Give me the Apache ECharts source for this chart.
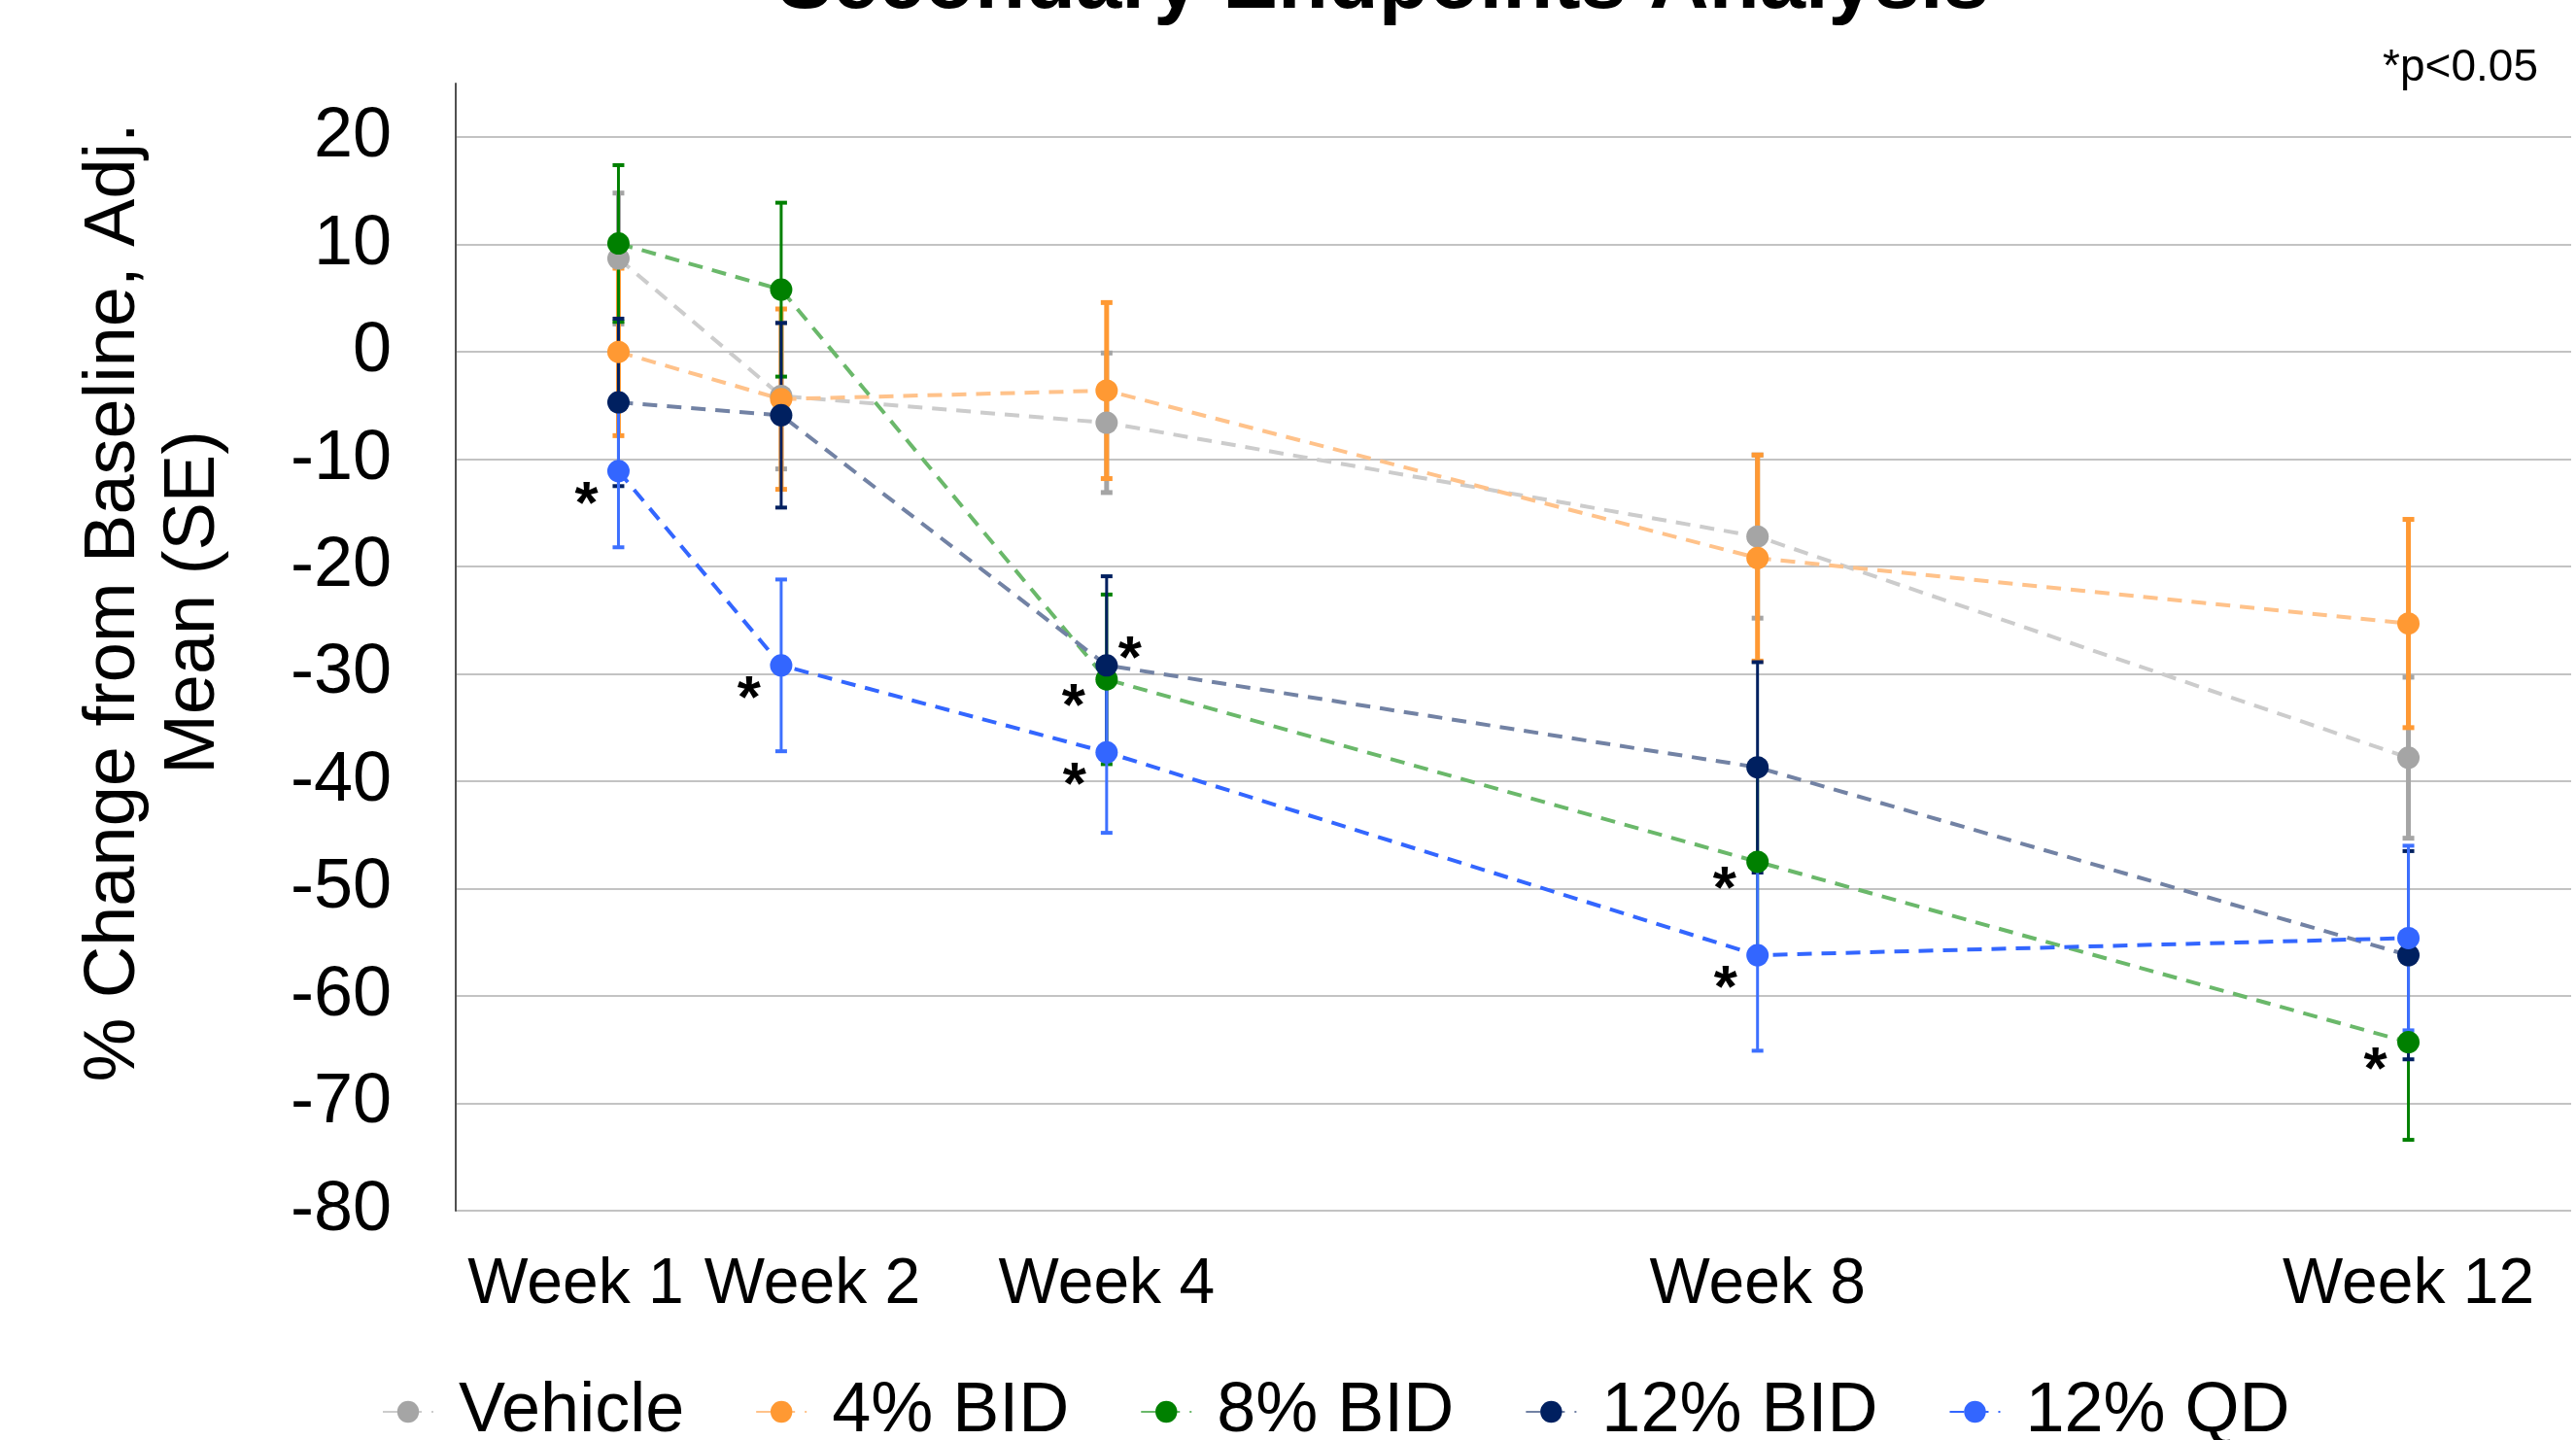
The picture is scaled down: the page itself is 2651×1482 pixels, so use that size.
<!DOCTYPE html>
<html>
<head>
<meta charset="utf-8">
<script src="https://cdn.jsdelivr.net/npm/echarts@6/dist/echarts.min.js"></script>
<style>
html,body{margin:0;padding:0;background:#fff;}
#chart{width:2651px;height:1482px;}
</style>
</head>
<body>
<div id="chart"></div>
<script>
// ---------- data ----------
const weeks = [1, 2, 4, 8, 12];
const weekLabels = ['Week 1', 'Week 2', 'Week 4', 'Week 8', 'Week 12'];
const seriesNames = ['Vehicle', '4% BID', '8% BID', '12% BID', '12% QD'];

const vehicleMean = [8.7, -4.1, -6.6, -17.2, -37.8];
const vehicleSE   = [6.1, 6.8, 6.5, 7.6, 7.5];
const bid4Mean    = [0.0, -4.4, -3.6, -19.2, -25.3];
const bid4SE      = [7.8, 8.4, 8.2, 9.6, 9.7];
const bid8Mean    = [10.1, 5.8, -30.5, -47.5, -64.3];
const bid8SE      = [7.3, 8.1, 7.9, 9.0, 9.1];
const bid12Mean   = [-4.7, -5.9, -29.2, -38.7, -56.2];
const bid12SE     = [7.8, 8.6, 8.3, 9.8, 9.7];
const qd12Mean    = [-11.1, -29.2, -37.3, -56.2, -54.6];
const qd12SE      = [7.1, 8.0, 7.5, 8.9, 8.6];

// significance (p<0.05) flags
const vehicleSig = [0, 0, 0, 0, 0];
const bid4Sig    = [0, 0, 0, 0, 0];
const bid8Sig    = [0, 0, 1, 1, 1];
const bid12Sig   = [0, 0, 1, 0, 0];
const qd12Sig    = [1, 1, 1, 1, 0];

const yTicks = { min: -80, max: 25, interval: 10 };

// ---------- styles ----------
const FONT = "'Liberation Sans', Arial, Helvetica, sans-serif";
// label nudges (Week 1 / Week 2 are pushed apart as in the original)
const weekLabelStyle = ['w1', 'w2', 'wn', 'wn', 'wn'];

const groups = [
  { name: seriesNames[0], mean: vehicleMean, se: vehicleSE, sig: vehicleSig,
    marker: '#a5a5a5', line: '#cccccc', bar: '#a5a5a5', barW: 5, capW: 5, starOffset: [-33, 28] },
  { name: seriesNames[1], mean: bid4Mean, se: bid4SE, sig: bid4Sig,
    marker: '#ff9933', line: '#ffc28a', bar: '#ff9933', barW: 5, capW: 5, starOffset: [-33, 28] },
  { name: seriesNames[2], mean: bid8Mean, se: bid8SE, sig: bid8Sig,
    marker: '#008000', line: '#6ab86a', bar: '#008000', barW: 3, capW: 4, starOffset: [-34, 30] },
  { name: seriesNames[3], mean: bid12Mean, se: bid12SE, sig: bid12Sig,
    marker: '#002060', line: '#7282a4', bar: '#002060', barW: 3, capW: 4, starOffset: [24, -5] },
  { name: seriesNames[4], mean: qd12Mean, se: qd12SE, sig: qd12Sig,
    marker: '#3366ff', line: '#3366ff', bar: '#3d70ff', barW: 3, capW: 4, starOffset: [-33, 36] }
];

const series = [];
groups.forEach(function (g) {
  // error bars (mean ± SE)
  series.push({
    type: 'custom',
    name: g.name + ' SE',
    z: 2,
    silent: true,
    encode: { x: 0, y: 1 },
    data: weeks.map(function (w, i) { return [w, g.mean[i], g.se[i]]; }),
    renderItem: function (params, api) {
      const x = api.value(0), m = api.value(1), s = api.value(2);
      const top = api.coord([x, m + s]);
      const bot = api.coord([x, m - s]);
      const cw = 6;
      return {
        type: 'group',
        children: [
          { type: 'line', shape: { x1: top[0], y1: top[1], x2: bot[0], y2: bot[1] },
            style: { stroke: g.bar, lineWidth: g.barW } },
          { type: 'line', shape: { x1: top[0] - cw, y1: top[1], x2: top[0] + cw, y2: top[1] },
            style: { stroke: g.bar, lineWidth: g.capW } },
          { type: 'line', shape: { x1: bot[0] - cw, y1: bot[1], x2: bot[0] + cw, y2: bot[1] },
            style: { stroke: g.bar, lineWidth: g.capW } }
        ]
      };
    }
  });
});
groups.forEach(function (g) {
  series.push({
    type: 'line',
    name: g.name,
    z: 3,
    symbol: 'circle',
    symbolSize: 23,
    showAllSymbol: true,
    itemStyle: { color: g.marker, borderWidth: 0 },
    lineStyle: { color: g.line, width: 4, type: [15, 10] },
    emphasis: { disabled: true },
    animation: false,
    data: weeks.map(function (w, i) {
      const item = { value: [w, g.mean[i]] };
      if (g.sig[i]) {
        item.label = {
          show: true, formatter: '*', position: 'inside',
          offset: g.starOffset,
          color: '#000', fontFamily: FONT, fontWeight: 'bold', fontSize: 62,
          align: 'center', verticalAlign: 'middle'
        };
      }
      return item;
    })
  });
});

const chart = echarts.init(document.getElementById('chart'), null, { renderer: 'canvas' });
chart.setOption({
  backgroundColor: '#ffffff',
  animation: false,
  title: [
    { text: 'Secondary Endpoints Analysis', left: 795, top: -63, padding: 5,
      textStyle: { fontFamily: FONT, fontWeight: 'bold', fontSize: 85, color: '#000' } },
    { text: '*p<0.05', right: 34, top: 42, padding: 5,
      textStyle: { fontFamily: FONT, fontWeight: 'normal', fontSize: 46, color: '#000' } }
  ],
  grid: { left: 469, right: 5, top: 86, bottom: 236, containLabel: false, outerBoundsMode: 'none' },
  legend: {
    data: seriesNames,
    left: 388, top: 1412, padding: 5,
    orient: 'horizontal',
    itemWidth: 52, itemHeight: 28, itemGap: 73,
    textStyle: { fontFamily: FONT, fontSize: 72, color: '#000', padding: [0, 0, 0, 21] },
    selectedMode: false
  },
  xAxis: {
    type: 'value', min: 0, max: 13, interval: 1,
    axisLine: { show: false }, axisTick: { show: false }, splitLine: { show: false },
    axisLabel: {
      margin: 44, fontFamily: FONT, fontSize: 66, color: '#000',
      showMinLabel: true, showMaxLabel: true, hideOverlap: false,
      formatter: function (v) {
        const k = weeks.indexOf(v);
        return k >= 0 ? '{' + weekLabelStyle[k] + '|' + weekLabels[k] + '}' : '';
      },
      rich: {
        w1: { fontFamily: FONT, fontSize: 66, color: '#000', padding: [0, 88, 0, 0] },
        w2: { fontFamily: FONT, fontSize: 66, color: '#000', padding: [0, 0, 0, 64] },
        wn: { fontFamily: FONT, fontSize: 66, color: '#000' }
      }
    }
  },
  yAxis: {
    type: 'value', min: yTicks.min, max: yTicks.max, interval: yTicks.interval,
    axisLine: { show: true, lineStyle: { color: '#505050', width: 2 } },
    axisTick: { show: false },
    splitLine: { show: true, showMaxLine: false, lineStyle: { color: '#c3c3c3', width: 2 } },
    axisLabel: {
      margin: 66, fontFamily: FONT, fontSize: 72, color: '#000',
      showMaxLabel: false, hideOverlap: false
    }
  },
  graphic: [
    { type: 'text', x: 159, y: 620, rotation: Math.PI / 2,
      style: { text: '% Change from Baseline, Adj.\nMean (SE)', font: '74px ' + FONT,
        fill: '#000', align: 'center', verticalAlign: 'middle', lineHeight: 82 } }
  ],
  series: series
});
</script>
</body>
</html>
